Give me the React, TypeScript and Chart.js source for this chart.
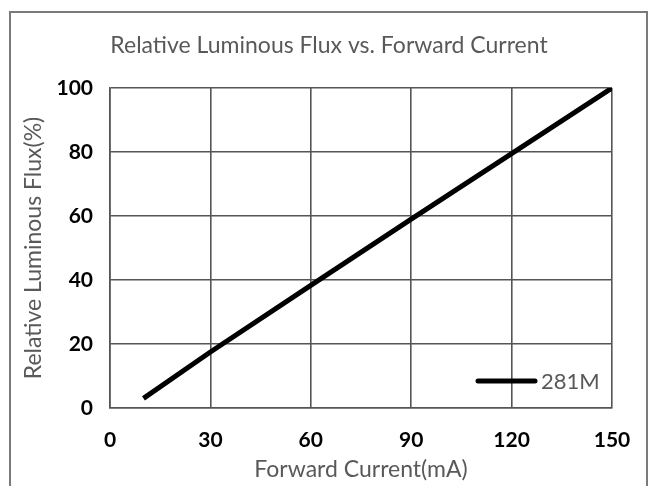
import React, { useEffect, useRef } from "react";
import { Chart, registerables } from "chart.js";

Chart.register(...registerables);

const currentMA = [10, 30, 60, 90, 120, 150];
const fluxPct = [3, 17.5, 38.3, 59, 79.5, 100];
const seriesLabel = "281M";
const chartTitle = "Relative Luminous Flux vs. Forward Current";
const xTitle = "Forward Current(mA)";
const yTitle = "Relative Luminous Flux(%)";

const FONT = "Lato, 'Open Sans', sans-serif";
const GRAY_TEXT = "#595959";

const frameTitleLegend = {
  id: "frameTitleLegend",
  beforeDraw(chart: any) {
    const ctx = chart.ctx;
    ctx.save();
    ctx.fillStyle = "#ffffff";
    ctx.fillRect(0, 0, chart.width, chart.height);
    ctx.strokeStyle = "#7a7a7a";
    ctx.lineWidth = 2;
    ctx.strokeRect(10, 12, 637, 600);
    ctx.fillStyle = GRAY_TEXT;
    ctx.font = `23px ${FONT}`;
    ctx.textAlign = "center";
    ctx.textBaseline = "middle";
    ctx.fillText(chartTitle, 329, 46);
    ctx.restore();
  },
  afterDatasetsDraw(chart: any) {
    const ctx = chart.ctx;
    const a = chart.chartArea;
    const ds = chart.data.datasets[0];
    const y = a.bottom - 27;
    const x1 = a.right - 77;
    const x0 = x1 - 57;
    ctx.save();
    ctx.strokeStyle = ds.borderColor;
    ctx.lineWidth = ds.borderWidth;
    ctx.lineCap = "round";
    ctx.beginPath();
    ctx.moveTo(x0, y);
    ctx.lineTo(x1, y);
    ctx.stroke();
    ctx.fillStyle = GRAY_TEXT;
    ctx.font = `22px ${FONT}`;
    ctx.textBaseline = "middle";
    ctx.textAlign = "left";
    ctx.fillText(ds.label, x1 + 6, y + 1);
    ctx.restore();
  },
};

export default function App() {
  const ref = useRef<HTMLCanvasElement>(null);
  useEffect(() => {
    document.body.style.margin = "0";
    const chart = new Chart(ref.current!, {
      type: "line",
      data: {
        datasets: [
          {
            label: seriesLabel,
            data: currentMA.map((x, i) => ({ x, y: fluxPct[i] })),
            borderColor: "#000000",
            borderWidth: 5,
            pointRadius: 0,
            tension: 0,
          },
        ],
      },
      options: {
        responsive: false,
        animation: false,
        layout: { padding: { left: 0, right: 42, top: 88, bottom: 0 } },
        plugins: {
          legend: { display: false },
          tooltip: { enabled: false },
          title: { display: false },
        },
        scales: {
          x: {
            type: "linear",
            min: 0,
            max: 150,
            ticks: {
              stepSize: 30,
              color: "#000000",
              font: { family: FONT, size: 21, weight: "bold" },
              padding: 20,
              maxRotation: 0,
            },
            grid: { color: "#555555", lineWidth: 1.6, drawTicks: false },
            border: { color: "#555555", width: 1.6 },
            title: {
              display: true,
              text: xTitle,
              color: GRAY_TEXT,
              font: { family: FONT, size: 23, weight: "normal" },
              padding: { top: 0, bottom: 3 },
            },
            afterFit: (s: any) => {
              s.height = 78;
            },
          },
          y: {
            type: "linear",
            min: 0,
            max: 100,
            ticks: {
              stepSize: 20,
              color: "#000000",
              font: { family: FONT, size: 21, weight: "bold" },
              padding: 17,
            },
            grid: { color: "#555555", lineWidth: 1.6, drawTicks: false },
            border: { color: "#555555", width: 1.6 },
            title: {
              display: true,
              text: yTitle,
              color: GRAY_TEXT,
              font: { family: FONT, size: 23, weight: "normal" },
              padding: { top: 20, bottom: 0 },
            },
            afterFit: (s: any) => {
              s.width = 110;
            },
          },
        },
      },
      plugins: [frameTitleLegend],
    });
    return () => chart.destroy();
  }, []);
  return (
    <div style={{ position: "absolute", left: 0, top: 0, width: 654, height: 486 }}>
      <canvas ref={ref} width={654} height={486} />
    </div>
  );
}
